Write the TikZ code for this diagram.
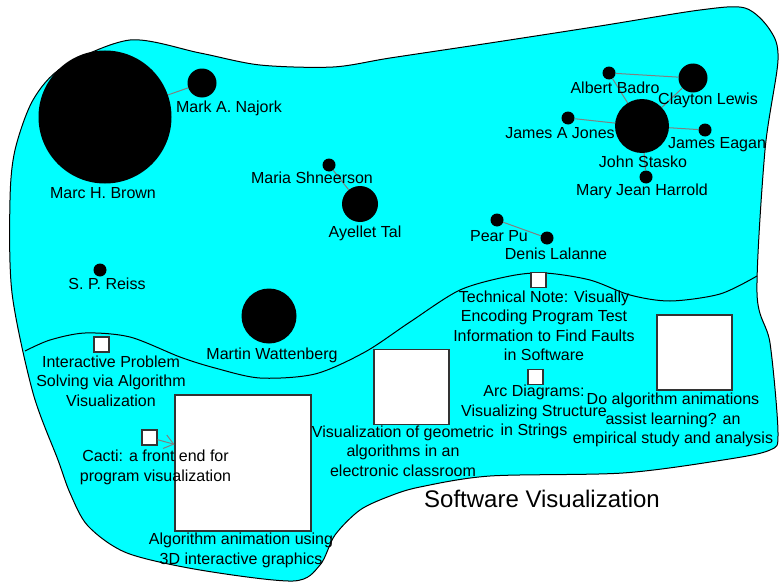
\documentclass[tikz,border=0pt]{standalone}
\usepackage{fontspec}
\setmainfont{Liberation Sans}
\usetikzlibrary{arrows.meta}
\definecolor{softvis}{HTML}{00FFFF}

\begin{document}
\begin{tikzpicture}[x=1pt, y=-1pt,
    author/.style={circle, fill=black, inner sep=0pt, minimum size=#1},
    paper/.style={rectangle, draw=black!80, line width=1.2pt, fill=white, inner sep=0pt, minimum size=#1},
    who/.style={font=\fontsize{16}{19}\selectfont, inner sep=0pt, text height=11.5pt, text depth=3.5pt},
    ptitle/.style={font=\fontsize{16}{19.5}\selectfont, inner sep=0pt, align=center},
    link/.style={draw=gray, line width=1pt}]

\useasboundingbox (0,0) rectangle (781,586);
\fill[white] (0,0) rectangle (781,586);

\begin{scope}
    \draw[fill=softvis, line width=1pt]
        plot [smooth cycle] coordinates {(12,293) (10,200) (15,150) (33,100) (63,67) (130,40) (200,53) (260,65) (333,67) (390,58) (490,43) (600,26) (700,10) (745,8) (770,30) (778,60) (765,150) (757,293) (770,343) (778,433) (770,450) (723,460) (623,473) (490,476) (420,487) (390,496) (360,510) (335,535) (320,565) (293,581) (200,570) (127,553) (88,526) (70,493) (58,460) (33,393)};
    \draw[line width=1pt]
        plot [smooth] coordinates {(25,351) (50,340) (85,333) (130,337) (180,357) (215,368) (260,378) (315,374) (365,352) (410,322) (460,290) (510,276) (545,273) (590,280) (630,295) (670,301) (720,294) (757,276)};
\end{scope}

\node[author=133pt] (brown) at (105,117) {};
\node[author=29pt] (najork) at (202,83) {};
\node[author=13pt] (shneerson) at (329,165) {};
\node[author=36pt] (tal) at (360,204) {};
\node[author=13pt] (reiss) at (100,270) {};
\node[author=55pt] (wattenberg) at (269,316) {};
\node[author=13pt] (badro) at (609,73) {};
\node[author=29pt] (lewis) at (693,78) {};
\node[author=54pt] (stasko) at (642,126) {};
\node[author=13pt] (jones) at (568,118) {};
\node[author=13pt] (eagan) at (705,130) {};
\node[author=13pt] (harrold) at (646,177) {};
\node[author=13pt] (pu) at (497,220) {};
\node[author=13pt] (lalanne) at (547,238) {};

\draw[link] (brown) -- (najork);
\draw[link] (shneerson) -- (tal);
\draw[link] (badro) -- (lewis);
\draw[link] (badro) -- (stasko);
\draw[link] (lewis) -- (stasko);
\draw[link] (jones) -- (stasko);
\draw[link] (eagan) -- (stasko);
\draw[link] (harrold) -- (stasko);
\draw[link] (pu) -- (lalanne);

\node[paper=15pt] (technote) at (538.5,280) {};
\node[paper=15pt] (arcdiag) at (535.5,377) {};
\node[paper=75pt] (doanim) at (694.5,352.5) {};
\node[paper=75pt] (geomvis) at (411.5,387) {};
\node[paper=15pt] (interact) at (101.5,344.5) {};
\node[paper=136pt] (anim3d) at (243,463) {};
\node[paper=15pt] (cacti) at (149.5,437.5) {};

\draw[link, -{Straight Barb[length=9pt, width=14pt]}] (cacti) -- (anim3d);

\node[who] (brown-l) at (103,194) {Marc H. Brown};
\node[who] (najork-l) at (229,108) {Mark A. Najork};
\node[who] (shneerson-l) at (312,179) {Maria Shneerson};
\node[who] (tal-l) at (365,233) {Ayellet Tal};
\node[who] (reiss-l) at (107,285) {S. P. Reiss};
\node[who] (wattenberg-l) at (272,355) {Martin Wattenberg};
\node[who] (badro-l) at (615,89) {Albert Badro};
\node[who] (lewis-l) at (708,100) {Clayton Lewis};
\node[who] (stasko-l) at (643,163) {John Stasko};
\node[who] (jones-l) at (560,134) {James A Jones};
\node[who] (eagan-l) at (717,144) {James Eagan};
\node[who] (harrold-l) at (642,191) {Mary Jean Harrold};
\node[who] (pu-l) at (499,237) {Pear Pu};
\node[who] (lalanne-l) at (556,255) {Denis Lalanne};

\node[ptitle] (technote-l) at (544,326) {Technical Note: Visually\\Encoding Program Test\\Information to Find Faults\\in Software};
\node[ptitle] (arcdiag-l) at (534,412) {Arc Diagrams:\\Visualizing Structure\\in Strings};
\node[ptitle] (doanim-l) at (673,420) {Do algorithm animations\\assist learning? an\\empirical study and analysis};
\node[ptitle] (geomvis-l) at (403,451) {Visualization of geometric\\algorithms in an\\electronic classroom};
\node[ptitle] (interact-l) at (111,381) {Interactive Problem\\Solving via Algorithm\\Visualization};
\node[ptitle] (anim3d-l) at (241,550.5) {Algorithm animation using\\3D interactive graphics};
\node[ptitle] (cacti-l) at (155.5,467.5) {Cacti: a front end for\\program visualization};

\node[font=\fontsize{24}{28}\selectfont, inner sep=0pt] (softvis-l) at (542,499) {Software Visualization};

\end{tikzpicture}
\end{document}
